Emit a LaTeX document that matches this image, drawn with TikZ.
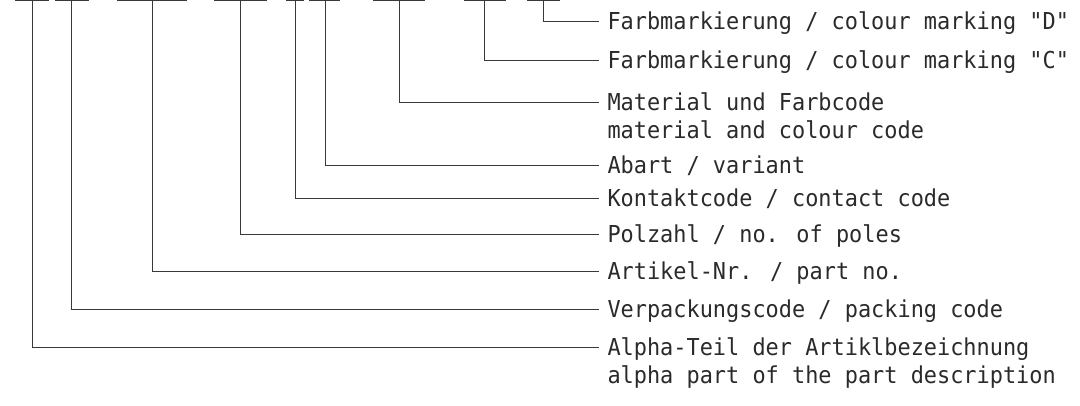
\documentclass[tikz,border=0pt]{standalone}
\usepackage{fontspec}
\usetikzlibrary{positioning}
\newfontfamily\isofont[FakeStretch=0.94]{DejaVu Sans Mono}
\definecolor{dwgLine}{HTML}{3A3A3A}
\definecolor{dwgText}{HTML}{2A2A2A}
\tikzset{
  % thin drafting lines, text in a technical mono face
  every picture/.append style = {line width=1pt},
  bar/.style    = {dwgLine, line width=1.2pt},
  leader/.style = {dwgLine, line width=1pt},
  lbl/.style    = {anchor=west, inner xsep=8pt, inner ysep=0pt,
                   text height=17pt, text depth=0pt, dwgText,
                   font=\isofont\fontsize{23.3}{27}\selectfont},
}

\begin{document}
\begin{tikzpicture}[x=1pt, y=-1pt,
    sub/.style={lbl, inner xsep=0pt}]
  \useasboundingbox (0,0) rectangle (1080,405);
  % code fields along the top edge
  \foreach \l/\r/\s/\n in {15/49/32/alpha, 55/89/71/pack, 117/187/152/part,
      214/267/240/poles, 286/304/295/contact, 309/340/325/variant,
      373/425/399/material, 464/506/484/colC, 527/560/543/colD} {
    \draw[bar] (\l,0.6) -- (\r,0.6);
    \coordinate (f-\n) at (\s,0.6);
  }
  % legend texts
  \node[lbl] (colD) at (599,21) {Farbmarkierung / colour marking "D"};
  \node[lbl] (colC) at (599,60) {Farbmarkierung / colour marking "C"};
  \node[lbl] (material) at (599,102) {Material und Farbcode};
  \node[sub, below=10pt of material.south west, anchor=north west, xshift=8pt]
    (material2) {material and colour code};
  \node[lbl] (variant) at (599,165) {Abart / variant};
  \node[lbl] (contact) at (599,198) {Kontaktcode / contact code};
  \node[lbl] (poles) at (599,234) {Polzahl / no. of poles};
  \node[lbl] (part) at (599,271) {Artikel-Nr. / part no.};
  \node[lbl] (pack) at (599,309) {Verpackungscode / packing code};
  \node[lbl] (alpha) at (599,347) {Alpha-Teil der Artiklbezeichnung};
  \node[sub, below=10pt of alpha.south west, anchor=north west, xshift=8pt]
    (alpha2) {alpha part of the part description};
  % leaders from each field to its text
  \foreach \n in {colD, colC, material, variant, contact, poles, part, pack, alpha}
    \draw[leader] (f-\n) |- (\n.west);
\end{tikzpicture}
\end{document}
